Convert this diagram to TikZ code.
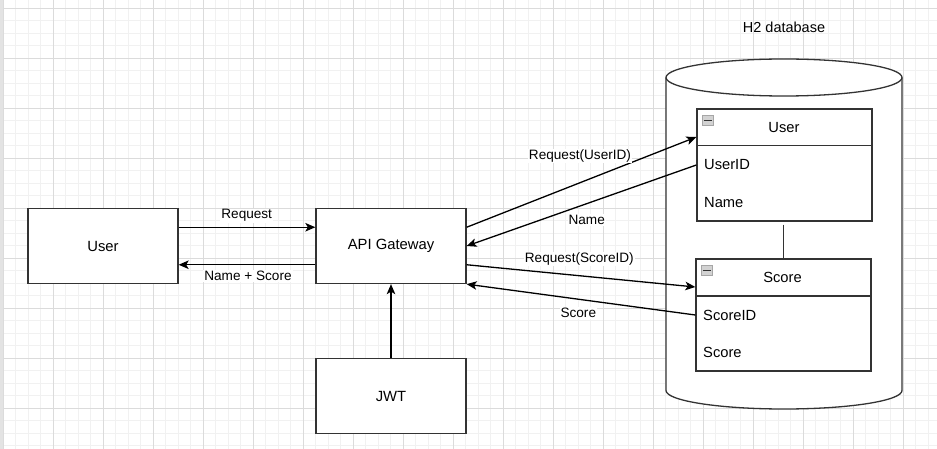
\documentclass[tikz,border=0pt]{standalone}
\usepackage{fontspec}
\setmainfont{Liberation Sans}
\usetikzlibrary{arrows.meta}
\definecolor{gridminor}{RGB}{241,241,241}
\definecolor{gridmajor}{RGB}{219,219,219}
\definecolor{boxline}{RGB}{51,51,51}
\tikzset{
  box/.style={draw=boxline, line width=1.3pt, fill=white, minimum width=150pt, minimum height=75pt, inner sep=0pt, font=\fontsize{14.8}{17}\selectfont},
  tbl/.style={draw=boxline, line width=1.3pt, fill=white, minimum width=175pt, minimum height=112pt, inner sep=0pt},
  tbltext/.style={inner sep=0pt, font=\fontsize{14.7}{17}\selectfont},
  elabel/.style={fill=white, inner sep=1pt, font=\fontsize{13.6}{16}\selectfont},
  arr/.style={line width=1.3pt, -{Stealth[length=10pt,width=8.5pt,inset=2.5pt]}},
  link/.style={line width=1.3pt, draw=boxline},
  icon/.style={draw=gray!70, fill=gray!35, line width=0.6pt}
}
\begin{document}
\begin{tikzpicture}[x=1pt,y=-1pt]
\useasboundingbox (0,0) rectangle (937,449);
\fill[white] (0,0) rectangle (937,449);
% grid
\foreach \i in {0,...,74} \draw[gridminor, line width=0.9pt] ({3.3+12.5*\i},0) -- ({3.3+12.5*\i},449);
\foreach \j in {0,...,35} \draw[gridminor, line width=0.9pt] (0,{8.3+12.5*\j}) -- (937,{8.3+12.5*\j});
\foreach \i in {0,...,18} \draw[gridmajor, line width=0.9pt] ({3.3+50*\i},0) -- ({3.3+50*\i},449);
\foreach \j in {0,...,8} \draw[gridmajor, line width=0.9pt] (0,{8.3+50*\j}) -- (937,{8.3+50*\j});
\fill[gray!22] (0,0) rectangle (2.5,449);

% cylinder
\path[draw=boxline, line width=1.3pt, fill=white]
  (666,77.5) -- (666,390.5) arc[start angle=180, end angle=360, x radius=118pt, y radius=18.5pt]
  -- (902,77.5) arc[start angle=0, end angle=180, x radius=118pt, y radius=18.5pt] -- cycle;
\draw[boxline, line width=1.3pt] (666,77.5) arc[start angle=180, end angle=360, x radius=118pt, y radius=18.5pt];
\node[font=\fontsize{14.5}{17}\selectfont, inner sep=0pt] (dblabel) at (784,27.5) {H2 database};

% boxes
\node[box] (user) at (103,246) {User};
\node[box] (api) at (391,246) {API Gateway};
\node[box] (jwt) at (391,396) {JWT};

% tables
\node[tbl] (usertbl) at (784.5,165) {};
\draw[link] ([yshift=-37.5pt]usertbl.north west) -- ([yshift=-37.5pt]usertbl.north east);
\draw[icon] (702,115.5) rectangle (713,125.5);
\draw[boxline, line width=1.2pt] (703.5,120.5) -- (711.5,120.5);
\node[tbltext] (usertitle) at (784,127.7) {User};
\node[tbltext, anchor=west] (useridrow) at (704,165) {UserID};
\node[tbltext, anchor=west] (namerow) at (704,202.7) {Name};

\node[tbl] (scoretbl) at (783.5,315) {};
\draw[link] ([yshift=-37.5pt]scoretbl.north west) -- ([yshift=-37.5pt]scoretbl.north east);
\draw[icon] (701,265.5) rectangle (712,275.5);
\draw[boxline, line width=1.2pt] (702.5,270.5) -- (710.5,270.5);
\node[tbltext] (scoretitle) at (782.5,277.7) {Score};
\node[tbltext, anchor=west] (scoreidrow) at (703,315) {ScoreID};
\node[tbltext, anchor=west] (scorerow) at (703,352.7) {Score};

\draw[link, shorten <=3pt] (usertbl.south -| scoretbl.north) -- (scoretbl.north);

% connectors
\draw[arr] ([yshift=18.75pt]user.east) -- ([yshift=18.75pt]api.west);
\draw[arr] ([yshift=-18.75pt]api.west) -- ([yshift=-18.75pt]user.east);
\draw[arr] ([yshift=18.75pt]api.east) -- ([yshift=28pt]usertbl.west);
\draw[arr] (usertbl.west) -- (api.east);
\draw[arr] ([yshift=-18.75pt]api.east) -- ([yshift=28pt]scoretbl.west);
\draw[arr] (scoretbl.west) -- (api.south east);
\draw[arr] (jwt.north) -- (api.south);

% edge labels
\node[elabel] (lreq) at (246.7,215.7) {Request};
\node[elabel] (lnamescore) at (248,276) {Name + Score};
\node[elabel] (lrequid) at (580,156) {Request(UserID)};
\node[elabel] (lname) at (586.7,220) {Name};
\node[elabel] (lreqsid) at (579.3,259) {Request(ScoreID)};
\node[elabel] (lscore) at (578.3,312.7) {Score};
\end{tikzpicture}
\end{document}
